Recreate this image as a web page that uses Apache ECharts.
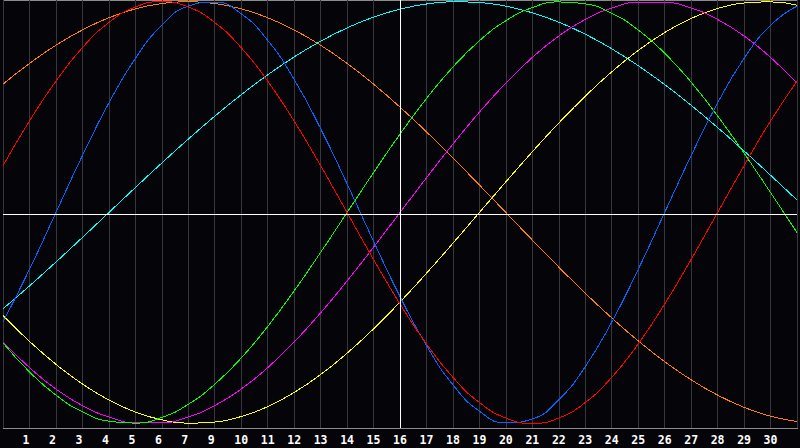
<!DOCTYPE html>
<html>
<head>
<meta charset="utf-8">
<title>Biorhythm</title>
<script src="https://cdn.jsdelivr.net/npm/echarts@6/dist/echarts.min.js"></script>
<style>
  html, body { margin: 0; padding: 0; background: #050409; }
  #chart { width: 800px; height: 448px; }
  /* the source draws aliased 1px lines */
  #chart path { shape-rendering: crispEdges; }
</style>
</head>
<body>
<div id="chart"></div>
<script>
var myChart = echarts.init(document.getElementById('chart'), null, { renderer: 'svg' });

// day labels under the grid lines (the source skips "8")
var dayLabels = ['1','2','3','4','5','6','7','9','10','11','12','13','14','15','16',
  '17','18','19','20','21','22','23','24','25','26','27','28','29','30'];

// curve values read at every grid line, x = 0 .. 30
var red = [0.2225,0.4339,0.6235,0.7818,0.9010,0.9749,1,0.9749,0.9010,0.7818,0.6235,0.4339,0.2225,0,
  -0.2225,-0.4339,-0.6235,-0.7818,-0.9010,-0.9749,-1,-0.9749,-0.9010,-0.7818,-0.6235,-0.4339,-0.2225,0,
  0.2225,0.4339,0.6235];
var orange = [0.6088,0.7071,0.7934,0.8660,0.9239,0.9659,0.9914,1,0.9914,0.9659,0.9239,0.8660,0.7934,0.7071,
  0.6088,0.5,0.3827,0.2588,0.1305,0,-0.1305,-0.2588,-0.3827,-0.5,-0.6088,-0.7071,-0.7934,-0.8660,
  -0.9239,-0.9659,-0.9914];
var blue = [-0.5196,-0.2698,0,0.2698,0.5196,0.7308,0.8879,0.9791,0.9977,0.9423,0.8170,0.6311,0.3984,0.1362,
  -0.1362,-0.3984,-0.6311,-0.8170,-0.9423,-0.9977,-0.9791,-0.8879,-0.7308,-0.5196,-0.2698,0,
  0.2698,0.5196,0.7308,0.8879,0.9791];
var cyan = [-0.4566,-0.3482,-0.2349,-0.1183,0,0.1183,0.2349,0.3482,0.4566,0.5586,0.6527,0.7378,0.8125,0.8757,
  0.9267,0.9647,0.9890,0.9996,0.9961,0.9785,0.9473,0.9028,0.8457,0.7766,0.6966,0.6068,0.5085,0.4031,
  0.2920,0.1769,0.0593];
var green = [-0.6182,-0.7557,-0.8660,-0.9450,-0.9898,-0.9989,-0.9718,-0.9096,-0.8146,-0.6901,-0.5406,-0.3717,
  -0.1893,0,0.1893,0.3717,0.5406,0.6901,0.8146,0.9096,0.9718,0.9989,0.9898,0.9450,0.8660,0.7557,0.6182,
  0.4582,0.2817,0.0950,-0.0950];
var magenta = [-0.6142,-0.7357,-0.8372,-0.9158,-0.9694,-0.9966,-0.9966,-0.9694,-0.9158,-0.8372,-0.7357,-0.6142,
  -0.4759,-0.3247,-0.1646,0,0.1646,0.3247,0.4759,0.6142,0.7357,0.8372,0.9158,0.9694,0.9966,0.9966,
  0.9694,0.9158,0.8372,0.7357,0.6142];
var yellow = [-0.4894,-0.6111,-0.7199,-0.8133,-0.8894,-0.9464,-0.9833,-0.9993,-0.9940,-0.9675,-0.9204,-0.8536,
  -0.7686,-0.6672,-0.5517,-0.4245,-0.2881,-0.1456,0,0.1456,0.2881,0.4245,0.5517,0.6672,0.7686,0.8536,
  0.9204,0.9675,0.9940,0.9993,0.9833];

var todayX = 15;          // white vertical line (label "16")
var centerLine = -0.0094; // white horizontal line

function pairs(arr) {
  var out = [];
  for (var i = 0; i < arr.length; i++) out.push([i, arr[i]]);
  return out;
}

function curve(name, color, values) {
  return {
    name: name,
    type: 'line',
    data: pairs(values),
    smooth: true,
    showSymbol: false,
    symbol: 'none',
    silent: true,
    animation: false,
    lineStyle: { color: color, width: 1 }
  };
}

var series = [
  curve('orange', '#ff8000', orange),
  curve('cyan', '#00ffff', cyan),
  curve('yellow', '#ffff00', yellow),
  curve('magenta', '#ff00ff', magenta),
  curve('green', '#00ff00', green),
  curve('blue', '#0066ff', blue),
  curve('red', '#ff0000', red)
];

// today + zero line
series.push({
  type: 'line',
  data: [],
  silent: true,
  animation: false,
  markLine: {
    silent: true,
    symbol: 'none',
    label: { show: false },
    animation: false,
    lineStyle: { color: '#ffffff', width: 1, type: 'solid' },
    data: [{ xAxis: todayX }, { yAxis: centerLine }]
  }
});

var option = {
  backgroundColor: '#050409',
  animation: false,
  grid: {
    left: 0,
    right: 1,
    top: 0,
    bottom: 20,
    show: true,
    backgroundColor: '#050409',
    borderColor: '#8c8c8c',
    borderWidth: 1
  },
  xAxis: {
    type: 'value',
    min: 0,
    max: 30,
    interval: 1,
    axisLine: { show: true, onZero: false, lineStyle: { color: '#8c8c8c', width: 1 } },
    axisTick: { show: false },
    splitLine: { show: true, lineStyle: { color: '#38373d', width: 1 } },
    axisLabel: {
      color: '#ffffff',
      fontFamily: 'DejaVu Sans Mono',
      fontWeight: 'bold',
      fontSize: 11.5,
      margin: 6,
      formatter: function (v) {
        if (v < 1 || v > 29) return '';
        var s = dayLabels[v - 1];
        // single digits sit left of the line, like the source
        return s.length === 1 ? s + ' ' : s;
      }
    }
  },
  yAxis: {
    type: 'value',
    min: -1.022,
    max: 1.008,
    show: false,
    splitLine: { show: false }
  },
  series: series
};

myChart.setOption(option);
</script>
</body>
</html>
